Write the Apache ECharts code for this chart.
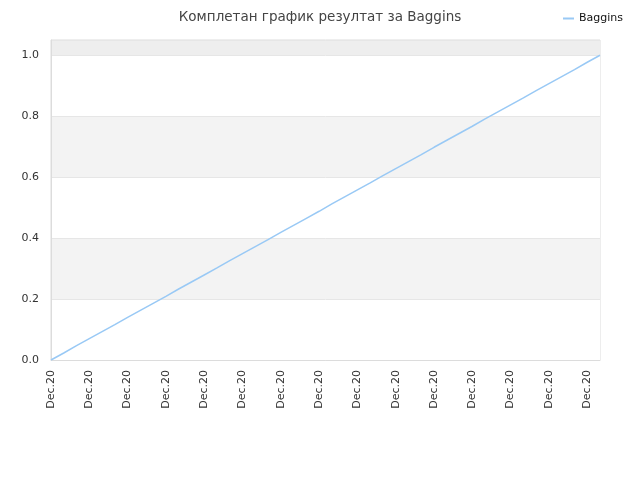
<!DOCTYPE html>
<html lang="sr" style="height: 100%">
<head>
  <meta charset="utf-8">
</head>
<body style="height: 100%; margin: 0">
  <div id="container" style="width: 640px; height: 480px"></div>
  <script type="text/javascript" src="https://cdn.jsdelivr.net/npm/echarts@6/dist/echarts.min.js"></script>
  <script type="text/javascript">
    var dom = document.getElementById('container');
    var myChart = echarts.init(dom, null, { renderer: 'canvas' });

    const titleText = 'Комплетан график резултат за Baggins';
    const seriesName = 'Baggins';
    // 44 points, every label reads "Dec.20"
    const dates = [
      'Dec.20', 'Dec.20', 'Dec.20', 'Dec.20', 'Dec.20', 'Dec.20', 'Dec.20', 'Dec.20', 'Dec.20', 'Dec.20', 'Dec.20',
      'Dec.20', 'Dec.20', 'Dec.20', 'Dec.20', 'Dec.20', 'Dec.20', 'Dec.20', 'Dec.20', 'Dec.20', 'Dec.20', 'Dec.20',
      'Dec.20', 'Dec.20', 'Dec.20', 'Dec.20', 'Dec.20', 'Dec.20', 'Dec.20', 'Dec.20', 'Dec.20', 'Dec.20', 'Dec.20',
      'Dec.20', 'Dec.20', 'Dec.20', 'Dec.20', 'Dec.20', 'Dec.20', 'Dec.20', 'Dec.20', 'Dec.20', 'Dec.20', 'Dec.20'
    ];
    const scores = [
      0.000, 0.023, 0.047, 0.070, 0.093, 0.116, 0.140, 0.163, 0.186, 0.209, 0.233,
      0.256, 0.279, 0.302, 0.326, 0.349, 0.372, 0.395, 0.419, 0.442, 0.465, 0.488,
      0.512, 0.535, 0.558, 0.581, 0.605, 0.628, 0.651, 0.674, 0.698, 0.721, 0.744,
      0.767, 0.791, 0.814, 0.837, 0.860, 0.884, 0.907, 0.930, 0.953, 0.977, 1.000
    ];

    var option = {
      textStyle: { fontFamily: 'DejaVu Sans' },
      title: {
        text: titleText,
        left: 'center',
        top: 5,
        textStyle: { fontSize: 13.5, fontWeight: 'normal', color: '#444' }
      },
      legend: {
        data: [seriesName],
        right: 12,
        top: 8,
        itemWidth: 11,
        itemHeight: 2,
        itemGap: 8,
        icon: 'rect',
        textStyle: { fontSize: 11, color: '#111' }
      },
      grid: {
        left: 51,
        right: 40,
        top: 40,
        bottom: 120,
        show: true,
        borderColor: '#dcdcdc',
        borderWidth: 1
      },
      xAxis: {
        type: 'category',
        data: dates,
        boundaryGap: false,
        axisLine: { lineStyle: { color: '#dcdcdc' } },
        axisTick: { show: false },
        axisLabel: {
          interval: 2,
          rotate: 90,
          fontSize: 11,
          color: '#333',
          margin: 10
        },
        splitLine: { show: false }
      },
      yAxis: {
        type: 'value',
        min: 0,
        max: 1.05,
        interval: 0.2,
        axisLine: { show: true, lineStyle: { color: '#dcdcdc' } },
        axisTick: { show: false },
        axisLabel: {
          showMaxLabel: false,
          fontSize: 11,
          color: '#333',
          margin: 12,
          formatter: function (v) { return v.toFixed(1); }
        },
        splitLine: { show: true, lineStyle: { color: '#e6e6e6' } },
        splitArea: {
          show: true,
          areaStyle: { color: ['#ffffff', '#f3f3f3', '#ffffff', '#f3f3f3', '#ffffff', '#eeeeee'] }
        }
      },
      series: [
        {
          name: seriesName,
          type: 'line',
          data: scores,
          showSymbol: false,
          symbol: 'none',
          lineStyle: { color: '#99c9f5', width: 1.5 },
          itemStyle: { color: '#99c9f5' }
        }
      ]
    };

    myChart.setOption(option);
  </script>
</body>
</html>
